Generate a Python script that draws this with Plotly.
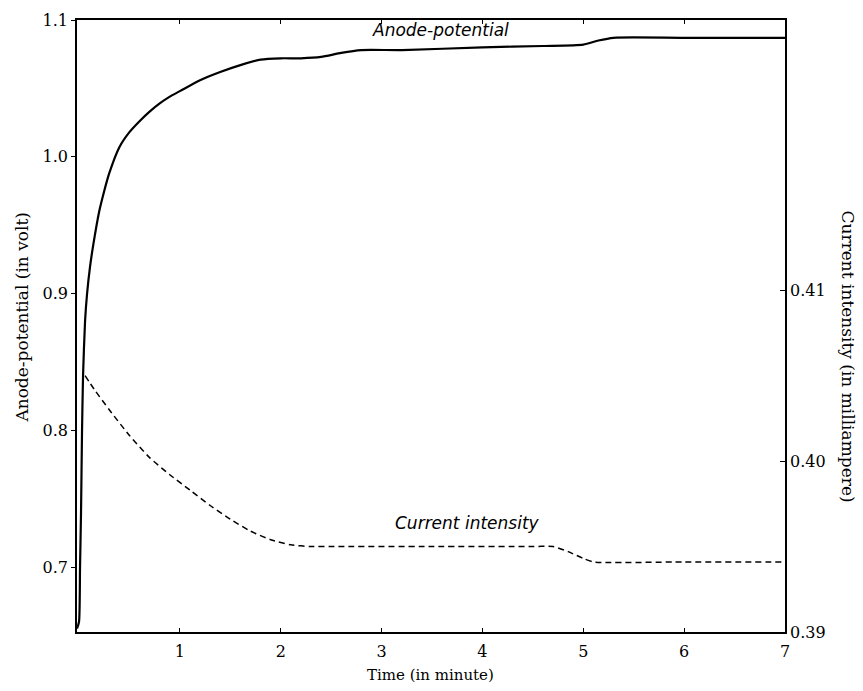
import plotly.graph_objects as go

# Anode potential (volt) vs time (minute)
anode_t = [-0.02, 0.0, 0.01, 0.02, 0.03, 0.04, 0.06, 0.08, 0.11, 0.14, 0.2, 0.25, 0.3, 0.4,
           0.5, 0.6, 0.7, 0.8, 0.9, 1.0, 1.2, 1.4, 1.6, 1.8, 2.0, 2.2, 2.4, 2.6, 2.8, 3.2, 4.0, 4.6,
           5.0, 5.15, 5.3, 6.0, 7.0]
anode_v = [0.655, 0.66, 0.70, 0.74, 0.80, 0.84, 0.88, 0.90, 0.92, 0.935, 0.96, 0.975, 0.988, 1.007,
           1.018, 1.026, 1.033, 1.039, 1.044, 1.048, 1.056, 1.062, 1.067, 1.071, 1.072, 1.072, 1.073,
           1.076, 1.078, 1.078, 1.080, 1.081, 1.082, 1.085, 1.087, 1.087, 1.087]

# Current intensity (milliampere) vs time (minute)
cur_t = [0.06, 0.15, 0.3, 0.5, 0.7, 0.9, 1.1, 1.3, 1.5, 1.7, 1.9, 2.1, 2.3, 2.5, 3.5, 4.5, 4.7,
         4.85, 5.0, 5.1, 6.0, 7.0]
cur_i = [0.4050, 0.4042, 0.4030, 0.4015, 0.4002, 0.3992, 0.3983, 0.3974, 0.3966, 0.3959, 0.3954,
         0.3951, 0.3950, 0.3950, 0.3950, 0.3950, 0.3950, 0.3947, 0.3943, 0.3941, 0.3941, 0.3941]

x_ticks = [1, 2, 3, 4, 5, 6, 7]
left_ticks = [0.7, 0.8, 0.9, 1.0, 1.1]
left_labels = ["0.7", "0.8", "0.9", "1.0", "1.1"]
right_ticks = [0.39, 0.40, 0.41]
right_labels = ["0.39", "0.40", "0.41"]

serif = "DejaVu Serif"

fig = go.Figure()
fig.add_trace(go.Scatter(x=anode_t, y=anode_v, mode="lines",
                         line=dict(color="black", width=2.2, shape="spline", smoothing=0.6),
                         name="Anode-potential", yaxis="y"))
fig.add_trace(go.Scatter(x=cur_t, y=cur_i, mode="lines",
                         line=dict(color="black", width=1.5, dash="6px,4px", shape="spline", smoothing=0.6),
                         name="Current intensity", yaxis="y2"))

fig.update_layout(
    width=863, height=691,
    margin=dict(l=77, r=78, t=20, b=59),
    plot_bgcolor="white", paper_bgcolor="white",
    showlegend=False,
    font=dict(family=serif, color="black", size=16),
    xaxis=dict(range=[-0.02, 7], tickvals=x_ticks, ticks="inside", ticklen=4, tickcolor="black",
               showline=True, linecolor="black", linewidth=1.6, mirror="ticks", showgrid=False,
               zeroline=False, tickfont=dict(family=serif, size=16), ticklabelstandoff=4),
    yaxis=dict(range=[0.6525, 1.1], tickvals=left_ticks, ticktext=left_labels,
               ticks="outside", ticklen=4, tickcolor="black", showline=True, linecolor="black",
               linewidth=1.6, showgrid=False, zeroline=False, tickfont=dict(family=serif, size=16)),
    yaxis2=dict(range=[0.39, 0.4258], tickvals=right_ticks, ticktext=right_labels, overlaying="y",
                side="right", ticks="inside", ticklen=5, tickcolor="black", showline=True,
                linecolor="black", linewidth=1.6, showgrid=False, zeroline=False,
                tickfont=dict(family=serif, size=16)),
    annotations=[
        dict(text="Anode-potential", x=0.513, y=0.984, xref="paper", yref="paper", showarrow=False,
             font=dict(family="DejaVu Sans", size=17, style="italic"), xanchor="center", yanchor="middle"),
        dict(text="Current intensity", x=0.552, y=0.178, xref="paper", yref="paper", showarrow=False,
             font=dict(family="DejaVu Sans", size=17, style="italic"), xanchor="center", yanchor="middle"),
        dict(text="Anode-potential (in volt)", x=-0.078, y=0.515, xref="paper", yref="paper",
             showarrow=False, textangle=-90, font=dict(family=serif, size=17),
             xanchor="center", yanchor="middle"),
        dict(text="Current intensity (in milliampere)", x=1.089, y=0.45, xref="paper", yref="paper",
             showarrow=False, textangle=90, font=dict(family=serif, size=17),
             xanchor="center", yanchor="middle"),
        dict(text="Time (in minute)", x=0.499, y=-0.070, xref="paper", yref="paper", showarrow=False,
             font=dict(family=serif, size=15), xanchor="center", yanchor="middle"),
    ],
)

fig.write_html("out.html")
